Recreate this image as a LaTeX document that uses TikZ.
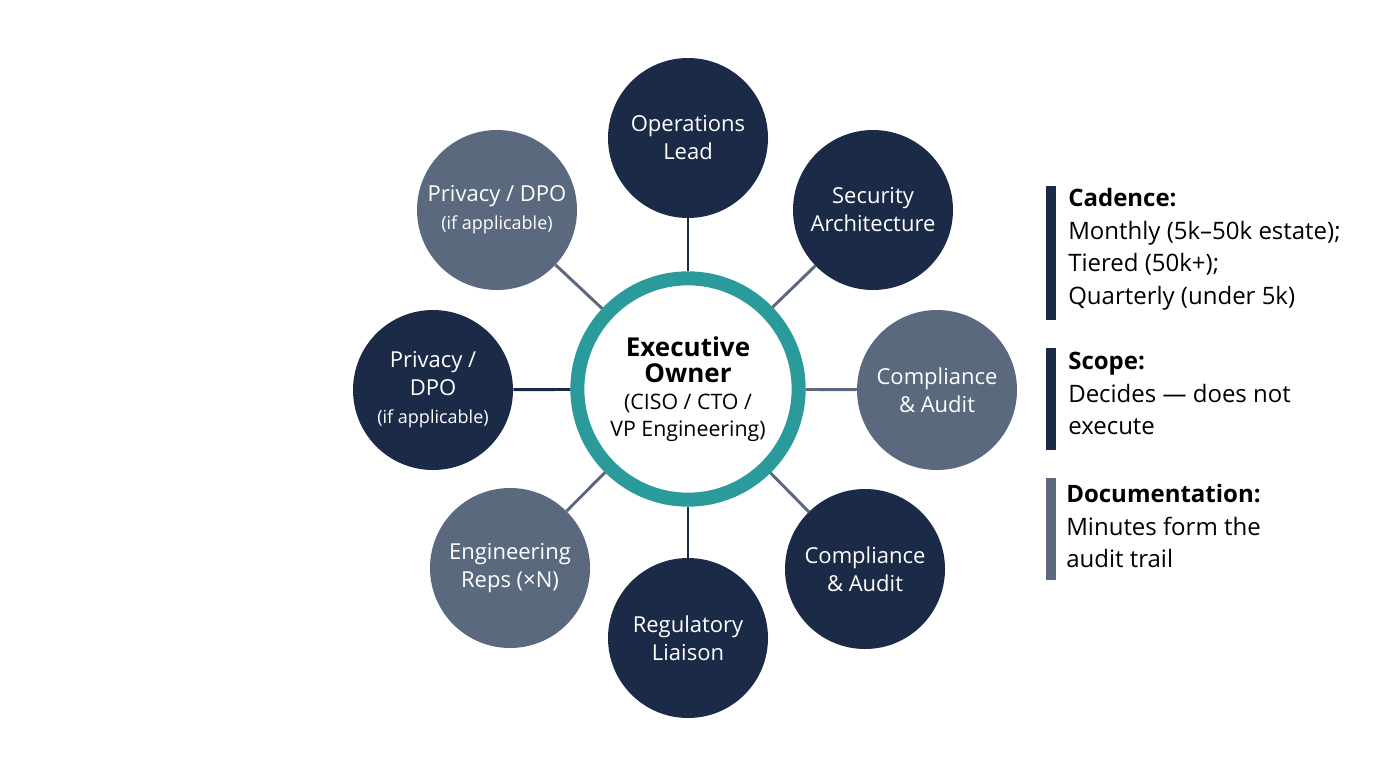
\documentclass[tikz,border=0pt]{standalone}
\usepackage{fontspec}
\setmainfont{Open Sans}
\definecolor{navy}{HTML}{1B2A47}
\definecolor{slate}{HTML}{5B697E}
\definecolor{teal}{HTML}{2A9A9A}
\begin{document}
\begin{tikzpicture}[x=0.75pt,y=-0.75pt,
  sat/.style={circle,minimum size=120pt,inner sep=0pt,align=center,text=white,font=\fontsize{16.5}{21}\selectfont},
  dk/.style={sat,fill=navy},
  gr/.style={sat,fill=slate},
  bar/.style={line width=7.5pt},
  lab/.style={anchor=north west,align=left,text=black,font=\fontsize{18}{24.5}\selectfont,inner sep=0pt}]
\useasboundingbox[fill=white] (0,0) rectangle (1376,768);
\node[dk] (n) at (688,138) {Operations\\Lead};
\node[dk] (ne) at (873,210) {Security\\Architecture};
\node[gr] (e) at (937,390) {Compliance\\\& Audit};
\node[dk] (se) at (865,569) {Compliance\\\& Audit};
\node[dk] (s) at (688,638) {Regulatory\\Liaison};
\node[gr] (sw) at (510,568) {Engineering\\Reps (×N)};
\node[dk] (w) at (433,390) {Privacy /\\DPO\\\fontsize{13.5}{17}\selectfont(if applicable)};
\node[gr] (nw) at (497,210) {Privacy / DPO\\\fontsize{13.5}{17}\selectfont(if applicable)};
\node[circle,draw=teal,line width=10.5pt,fill=white,minimum size=166pt,inner sep=0pt,align=center,font=\fontsize{16}{20}\selectfont] (c) at (688,389)
 {\bfseries\fontsize{19.5}{25}\selectfont Executive\\\bfseries\fontsize{19.5}{25}\selectfont Owner\\(CISO / CTO /\\VP Engineering)};
\foreach \t/\col in {n/navy,ne/slate,e/slate,se/slate,s/navy,sw/slate,w/navy,nw/slate}
  \draw[\col,line width=2.2pt] (c) -- (\t);
\draw[bar,navy] (1051,186) -- (1051,320);
\draw[bar,navy] (1051,348) -- (1051,450);
\draw[bar,slate] (1051,478) -- (1051,580);
\node[lab] (t1) at (1068,188) {\textbf{Cadence:}\\Monthly (5k–50k estate);\\Tiered (50k+);\\Quarterly (under 5k)};
\node[lab] (t2) at (1068,352) {\textbf{Scope:}\\Decides — does not\\execute};
\node[lab] (t3) at (1066,484) {\textbf{Documentation:}\\Minutes form the\\audit trail};
\end{tikzpicture}
\end{document}
